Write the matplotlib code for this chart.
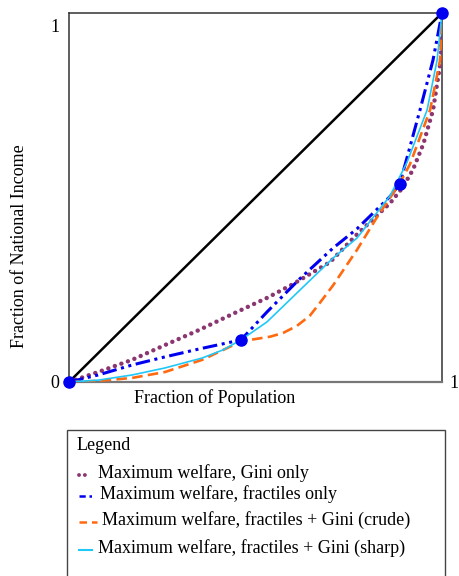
import matplotlib
matplotlib.use("Agg")
import matplotlib.pyplot as plt
from matplotlib.lines import Line2D
from matplotlib.patches import Rectangle

plt.rcParams['font.family'] = ['Liberation Serif', 'DejaVu Serif']

# Lorenz curves
gini_x = [0, 0.078, 0.169, 0.257, 0.351, 0.44, 0.531, 0.60, 0.65, 0.70, 0.772, 0.861,
          0.893, 0.922, 0.95, 0.976, 0.997, 1.0]
gini_y = [0, 0.027, 0.06, 0.10, 0.142, 0.185, 0.228, 0.265, 0.295, 0.325, 0.40, 0.485,
          0.525, 0.575, 0.645, 0.737, 0.873, 1.0]

fract_x = [0, 0.078, 0.169, 0.257, 0.351, 0.461, 0.531, 0.619, 0.708, 0.772, 0.861,
           0.887, 0.941, 0.976, 1.0]
fract_y = [0, 0.019, 0.046, 0.068, 0.09, 0.114, 0.19, 0.28, 0.363, 0.415, 0.503,
           0.537, 0.737, 0.873, 1.0]

crude_x = [0, 0.078, 0.169, 0.257, 0.357, 0.424, 0.461, 0.485, 0.54, 0.574, 0.611, 0.646,
           0.673, 0.708, 0.772, 0.826, 0.887, 0.914, 0.968, 0.995, 1.0]
crude_y = [0, 0.003, 0.011, 0.027, 0.06, 0.092, 0.11, 0.114, 0.123, 0.133, 0.152, 0.18,
           0.215, 0.262, 0.358, 0.447, 0.539, 0.59, 0.737, 0.873, 1.0]

sharp_x = [0, 0.078, 0.169, 0.257, 0.357, 0.413, 0.461, 0.531, 0.619, 0.708, 0.772,
           0.861, 0.906, 0.96, 0.987, 1.0]
sharp_y = [0, 0.005, 0.019, 0.038, 0.065, 0.087, 0.114, 0.163, 0.249, 0.336, 0.39,
           0.505, 0.595, 0.737, 0.873, 1.0]

knot_x = [0, 0.461, 0.887, 1.0]
knot_y = [0, 0.114, 0.537, 1.0]

legend_labels = [
    "Maximum welfare, Gini only",
    "Maximum welfare, fractiles only",
    "Maximum welfare, fractiles + Gini (crude)",
    "Maximum welfare, fractiles + Gini (sharp)",
]

PURPLE = '#8B3670'
BLUE = '#0000F0'
ORANGE = '#FF6A10'
CYAN = '#20C8F8'

fig = plt.figure(figsize=(4.59, 5.76), dpi=100)
ax = fig.add_axes([69 / 459, 1 - 382 / 576, 373 / 459, 369 / 576])

ax.plot([0, 1], [0, 1], color='black', lw=1.8, zorder=2)
ax.plot(gini_x, gini_y, color=PURPLE, lw=3.2, linestyle=(0, (0.01, 1.55)),
        dash_capstyle='round', solid_joinstyle='round', zorder=3)
ax.plot(fract_x, fract_y, color=BLUE, lw=2.2, linestyle=(0, (4.8, 1.5, 1, 1.5, 1, 1.5)), zorder=4)
ax.plot(crude_x, crude_y, color=ORANGE, lw=1.9, linestyle=(0, (4, 2)), zorder=5)
ax.plot(sharp_x, sharp_y, color=CYAN, lw=1.2, zorder=6)
ax.plot(knot_x, knot_y, 'o', color=BLUE, ms=8, zorder=7, clip_on=False)

ax.set_xlim(0, 1)
ax.set_ylim(0, 1)
ax.set_xticks([])
ax.set_yticks([])
for s in ax.spines.values():
    s.set_color('#333333')
    s.set_linewidth(1.1)
ax.spines['bottom'].set_color('#777777')
ax.spines['bottom'].set_linewidth(1.6)

fs = 13
fig.text(55 / 459, 1 - 27 / 576, "1", fontsize=fs, ha='center', va='center')
fig.text(55 / 459, 1 - 383 / 576, "0", fontsize=fs, ha='center', va='center')
fig.text(454 / 459, 1 - 384 / 576, "1", fontsize=fs, ha='center', va='center')
fig.text(215 / 459, 1 - 398 / 576, "Fraction of Population", fontsize=fs,
         ha='center', va='center')
fig.text(20 / 459, 1 - 246 / 576, "Fraction of National Income", fontsize=fs,
         ha='center', va='center', rotation=90)

# hand-drawn legend box below the plot
fig.patches.append(Rectangle((67 / 459, 1 - 590 / 576), 378 / 459, 160 / 576,
                             transform=fig.transFigure, fill=False,
                             edgecolor='#444444', lw=1.0))
fig.text(77 / 459, 1 - 446 / 576, "Legend", fontsize=fs, ha='left', va='center')

styles = [
    dict(color=PURPLE, lw=2.8, linestyle=(0, (0.01, 1.5)), dash_capstyle='round'),
    dict(color=BLUE, lw=1.8, linestyle=(0, (2.5, 1.5, 1, 1.5, 1, 1.5))),
    dict(color=ORANGE, lw=1.8, linestyle=(0, (3, 2))),
    dict(color=CYAN, lw=1.5),
]
rows = [473, 494, 520, 548]
sample_end = [89, 92, 97, 92]
text_x = [98, 100, 102, 98]
for lab, st, r, se, tx in zip(legend_labels, styles, rows, sample_end, text_x):
    yy = 1 - (r + 2) / 576
    fig.add_artist(Line2D([79 / 459, se / 459], [yy, yy], transform=fig.transFigure, **st))
    fig.text(tx / 459, 1 - r / 576, lab, fontsize=fs, ha='left', va='center')

fig.savefig('out.png', dpi=100)
